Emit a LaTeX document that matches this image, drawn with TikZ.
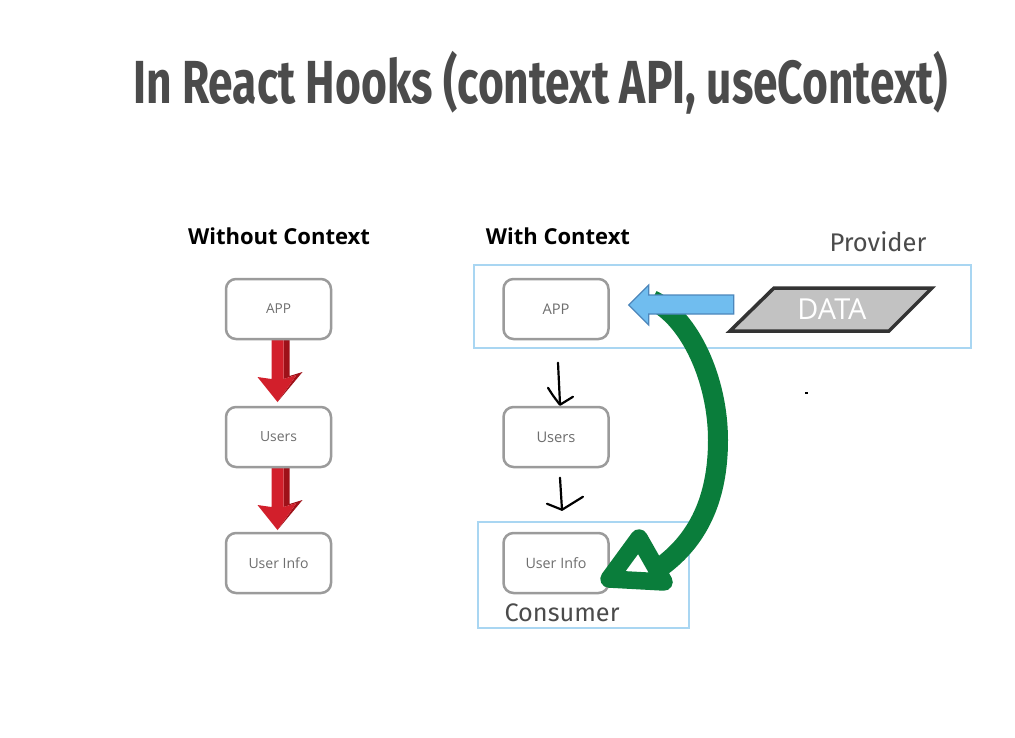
\documentclass[tikz,border=0pt]{standalone}
\usepackage{fontspec}
\usepackage{graphicx}
\setmainfont{Open Sans}
\newfontfamily\titlef{Fira Sans}
\newfontfamily\labf{Fira Sans}
\definecolor{titlegray}{HTML}{4B4B4B}
\definecolor{boxgray}{HTML}{9B9B9B}
\definecolor{labgray}{HTML}{6E6E6E}
\definecolor{provblue}{HTML}{A9D6F2}
\definecolor{ctxgreen}{HTML}{0A7D3B}
\definecolor{bluefill}{HTML}{70BDEF}
\definecolor{blueedge}{HTML}{4C86BB}
\definecolor{redfront}{HTML}{D21F2B}
\definecolor{redside}{HTML}{9E1119}
\definecolor{datafill}{HTML}{C2C2C2}
\definecolor{dataedge}{HTML}{333333}
\newcommand{\fw}[2]{\resizebox{#1pt}{!}{#2}}
\tikzset{
  compbox/.style={draw=boxgray, line width=2.5pt, rounded corners=10pt, minimum width=105pt, minimum height=60pt, inner sep=0pt, fill=white, text=labgray},
  txt/.style={inner sep=0pt},
  hand/.style={line width=2.2pt, line cap=round, line join=round, black},
  areabox/.style={draw=provblue, line width=2.5pt},
}
\begin{document}
\begin{tikzpicture}[x=1pt,y=-1pt]
\useasboundingbox[fill=white] (0,0) rectangle (1015,737);

% title
\node[txt, anchor=north west, text=titlegray] (title) at (133,51) {\resizebox*{815pt}{63pt}{\titlef\bfseries In React Hooks (context API, useContext)}};

% headings
\node[txt] (h1) at (279,236) {\fw{182}{\bfseries Without Context}};
\node[txt] (h2) at (558,236) {\fw{144}{\bfseries With Context}};

% provider / consumer areas
\draw[areabox] (474,265) rectangle (971,348);
\draw[areabox] (478,522) rectangle (689,628);
\node[txt, text=titlegray] (prov) at (878,242) {\fw{97}{\labf Provider}};
\node[txt, text=titlegray] (cons) at (562,613) {\fw{115}{\labf Consumer}};

% red arrows (left column), drawn before boxes
\foreach \yy in {340,468}{
  \begin{scope}[shift={(278.5,\yy)}]
    \fill[redside] (5,0) -- (11,-3) -- (11,36) -- (24,32) -- (-1,62) -- (18,35) -- (5,39) -- cycle;
    \fill[redfront] (-7,0) -- (5,0) -- (5,39) -- (18,35) -- (-1,62) -- (-21,37) -- (-7,39) -- cycle;
  \end{scope}
}

% left boxes
\node[compbox] (a1) at (278.5,309) {\fw{25}{APP}};
\node[compbox] (u1) at (278.5,437) {\fw{37}{Users}};
\node[compbox] (i1) at (278.5,563) {\fw{60}{User Info}};

% right boxes
\node[compbox] (a2) at (556,309) {\fw{27}{APP}};
\node[compbox] (u2) at (556,437) {\fw{39}{Users}};
\node[compbox] (i2) at (556,563) {\fw{61}{User Info}};

% hand drawn arrows
\begin{scope}[shift={(u2.north)}]
  \draw[hand] (2,-43) -- (4,-2);
  \draw[hand] (-8,-18) .. controls (-3,-10) .. (4,-1) -- (17,-9);
\end{scope}
\begin{scope}[shift={(i2.north)}]
  \draw[hand] (4,-54) -- (6,-22);
  \draw[hand] (-9,-28) -- (6,-22) -- (27,-35);
\end{scope}

% DATA
\filldraw[fill=datafill, draw=dataedge, line width=3.5pt, line join=miter] (730,331) -- (774,288) -- (932,288) -- (889,331) -- cycle;
\node[txt, text=white] (data) at (832,309) {\fw{69}{DATA}};

% green curved arrow
\draw[ctxgreen, line width=20pt] (652,300) .. controls (690,318) and (718,380) .. (718,440) .. controls (718,500) and (697,540) .. (662,566);
\draw[ctxgreen, line width=17.5pt, line join=round, fill=white] (609,579) -- (639,538) -- (664,582) -- cycle;

% blue arrow from DATA to APP
\begin{scope}[shift={(a2.east)}]
  \filldraw[fill=bluefill, draw=blueedge, line width=1.2pt] (124,-14) -- (39,-14) -- (39,-24) -- (19,-4) -- (39,16) -- (39,5) -- (124,5) -- cycle;
\end{scope}

% small speck
\fill[black] (805,392) rectangle (808,394);
\end{tikzpicture}
\end{document}
